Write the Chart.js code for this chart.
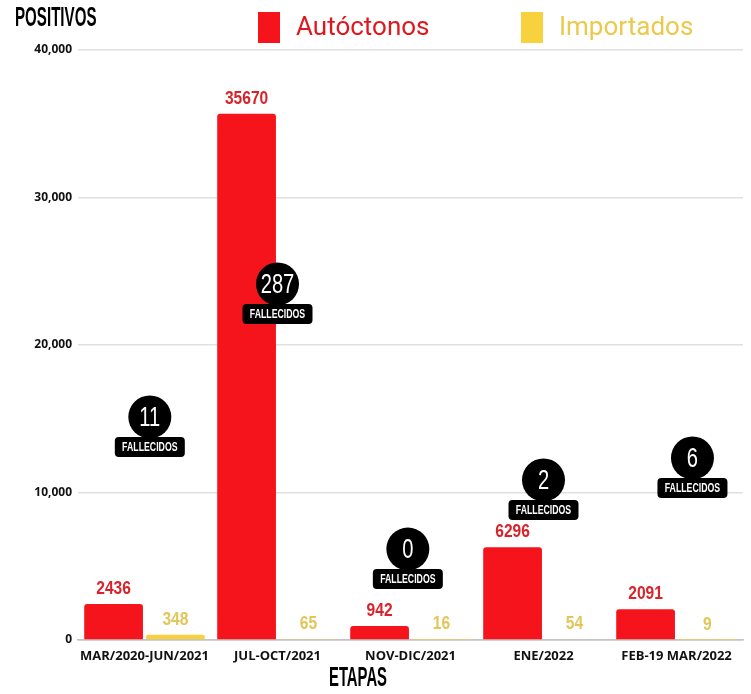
<!DOCTYPE html>
<html><head><meta charset="utf-8">
<script src="https://cdn.jsdelivr.net/npm/chart.js@4"></script>
<style>html,body{margin:0;padding:0;background:#fff;}#wrap{width:751px;height:694px;position:relative;}</style>
</head><body><div id="wrap"><canvas id="c"></canvas></div>
<script>
const categories = ["MAR/2020-JUN/2021", "JUL-OCT/2021", "NOV-DIC/2021", "ENE/2022", "FEB-19 MAR/2022"];
const autoctonos = [2436, 35670, 942, 6296, 2091];
const importados = [348, 65, 16, 54, 9];
const fallecidos = [11, 287, 0, 2, 6];
const yTickValues = [0, 10000, 20000, 30000, 40000];
const seriesNames = ["Autóctonos", "Importados"];
const yAxisTitle = "POSITIVOS";
const xAxisTitle = "ETAPAS";
const badgeWord = "FALLECIDOS";

const RED = '#f5141c', YELLOW = '#f7d23e';

function condText(ctx, text, x, y, font, sx, color, align) {
  ctx.save();
  ctx.font = font; ctx.fillStyle = color; ctx.textAlign = align || 'center'; ctx.textBaseline = 'middle';
  ctx.translate(x, y); ctx.scale(sx, 1); ctx.fillText(text, 0, 0);
  ctx.restore();
}
function rrect(ctx, x, y, w, h, r) {
  ctx.beginPath();
  ctx.moveTo(x + r, y); ctx.lineTo(x + w - r, y); ctx.quadraticCurveTo(x + w, y, x + w, y + r);
  ctx.lineTo(x + w, y + h - r); ctx.quadraticCurveTo(x + w, y + h, x + w - r, y + h);
  ctx.lineTo(x + r, y + h); ctx.quadraticCurveTo(x, y + h, x, y + h - r);
  ctx.lineTo(x, y + r); ctx.quadraticCurveTo(x, y, x + r, y); ctx.closePath();
}

const valueLabels = {
  id: 'valueLabels',
  afterDatasetsDraw(chart, args, opts) {
    const ctx = chart.ctx;
    chart.data.datasets.forEach((ds, di) => {
      const meta = chart.getDatasetMeta(di);
      meta.data.forEach((el, i) => {
        condText(ctx, String(ds.data[i]), el.x, el.y - 15.5, 'bold 19px "Liberation Sans", Arial, sans-serif', 0.82, opts.colors[di]);
      });
    });
  }
};

const badges = {
  id: 'badges',
  afterDatasetsDraw(chart, args, opts) {
    const ctx = chart.ctx, xs = chart.scales.x, ys = chart.scales.y;
    const catW = xs.getPixelForValue(1) - xs.getPixelForValue(0);
    fallecidos.forEach((n, i) => {
      const x = xs.getPixelForValue(i) + opts.shift[i] * catW;
      const y = ys.getPixelForValue(opts.levels[i]);
      ctx.save();
      ctx.fillStyle = '#000';
      ctx.beginPath(); ctx.arc(x, y, 21.5, 0, Math.PI * 2); ctx.fill();
      rrect(ctx, x - 35, y + 20, 70, 20, 4); ctx.fill();
      ctx.restore();
      condText(ctx, String(n), x, y + 1, '28px "Liberation Sans", Arial, sans-serif', 0.72, '#fff');
      condText(ctx, badgeWord, x, y + 30.5, 'bold 12.5px "Liberation Sans", Arial, sans-serif', 0.7, '#fff');
    });
  }
};

const titlesLegend = {
  id: 'titlesLegend',
  afterDraw(chart, args, opts) {
    const ctx = chart.ctx;
    condText(ctx, yAxisTitle, 15, 19, 'bold 27px "Liberation Sans", Arial, sans-serif', 0.56, '#000', 'left');
    condText(ctx, xAxisTitle, 358, 679, 'bold 27px "Liberation Sans", Arial, sans-serif', 0.55, '#000');
    chart.data.datasets.forEach((ds, di) => {
      const bx = opts.boxX[di];
      ctx.fillStyle = ds.backgroundColor;
      ctx.fillRect(bx, 12, 22, 31);
      ctx.font = '26px Roboto, sans-serif';
      ctx.fillStyle = opts.textColors[di];
      ctx.textAlign = 'left'; ctx.textBaseline = 'middle';
      ctx.fillText(ds.label, bx + 38, 28);
    });
  }
};

new Chart(document.getElementById('c'), {
  type: 'bar',
  data: {
    labels: categories,
    datasets: [
      { label: seriesNames[0], data: autoctonos, backgroundColor: RED, borderRadius: 3, borderSkipped: 'start' },
      { label: seriesNames[1], data: importados, backgroundColor: YELLOW, borderRadius: 3, borderSkipped: 'start' }
    ]
  },
  options: {
    responsive: true, maintainAspectRatio: false, animation: false, devicePixelRatio: 1, locale: 'en-US',
    layout: { padding: { top: 50, right: 8, bottom: 24, left: 0 } },
    datasets: { bar: { categoryPercentage: 0.93, barPercentage: 0.95 } },
    plugins: {
      legend: { display: false }, tooltip: { enabled: false },
      valueLabels: { colors: ['#d9232a', '#e2c65a'] },
      badges: { levels: [15120, 24140, 6170, 10850, 12340], shift: [0.04, 0, -0.02, 0, 0.12] },
      titlesLegend: { boxX: [258, 521], textColors: ['#e0181e', '#ebc94c'] }
    },
    scales: {
      x: {
        grid: { display: false, drawTicks: false },
        border: { display: true, color: '#c4c4c4', width: 1.5 },
        ticks: { color: '#111', font: { family: '"Open Sans", sans-serif', weight: 'bold', size: 13 }, padding: 8, maxRotation: 0, minRotation: 0, autoSkip: false },
        afterFit(s) { s.height = 30; }
      },
      y: {
        min: 0, max: 40000,
        afterBuildTicks(s) { s.ticks = yTickValues.map(v => ({ value: v })); },
        grid: { drawTicks: false, color: c => (c.tick && c.tick.value === 0) ? '#c4c4c4' : '#e0e0e0', lineWidth: 1.5 },
        border: { display: false },
        ticks: { color: '#111', font: { family: '"Open Sans", sans-serif', weight: 'bold', size: 12 }, padding: 6 },
        afterFit(s) { s.width = 78; }
      }
    }
  },
  plugins: [valueLabels, badges, titlesLegend]
});
</script>
</body></html>
